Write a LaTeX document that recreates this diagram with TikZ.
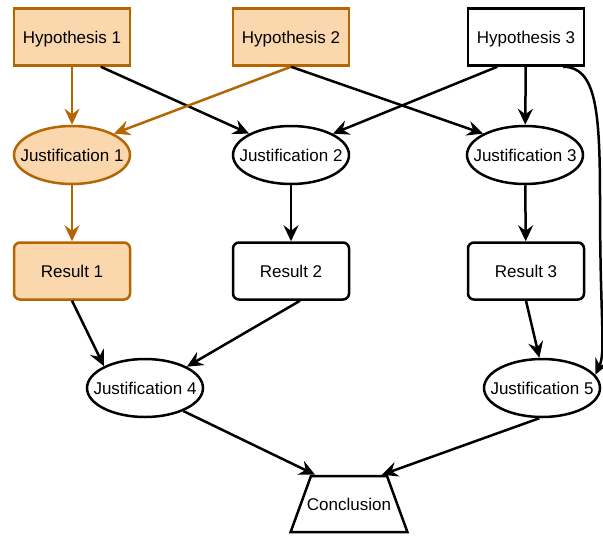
\documentclass[tikz,border=0pt]{standalone}
\usepackage{fontspec}
\setmainfont{Liberation Sans}
\usetikzlibrary{arrows.meta,shapes.geometric}
\definecolor{hypfill}{HTML}{FAD7AC}
\definecolor{hypdraw}{HTML}{B46504}

\begin{document}
\begin{tikzpicture}[x=1pt,y=-1pt,font=\fontsize{17}{20}\selectfont]
        \tikzstyle{box}=[rectangle, minimum width=116pt, minimum height=57pt, text height=12.3pt, text depth=0pt, line width=2.5pt, draw=black]
        \tikzstyle{rbox}=[box, rounded corners=6pt]
        \tikzstyle{just}=[ellipse, minimum width=116pt, minimum height=58pt, inner sep=0pt, line width=2.5pt, draw=black]
        \tikzstyle{concl}=[trapezium, trapezium left angle=70, trapezium right angle=70, inner sep=0pt, text width=76pt, text height=28pt, text depth=28pt, line width=2.5pt, draw=black]
        \tikzstyle{hilite}=[fill=hypfill, draw=hypdraw]
        \tikzstyle{connect}=[-{Stealth[length=16pt,width=15pt,inset=5.5pt]}, line width=2.5pt]
        \tikzstyle{connecto}=[connect, draw=hypdraw, fill=hypdraw]
        \useasboundingbox (0,0) rectangle (603,536);
        \node[box,hilite] (hyp1) at (72,37) {Hypothesis 1};
        \node[box,hilite] (hyp2) at (291,37) {Hypothesis 2};
        \node[box] (hyp3) at (526,37) {Hypothesis 3};
        \node[just,hilite] (just1) at (72,155) [label=center:Justification 1] {};
        \node[just] (just2) at (291,155) [label=center:Justification 2] {};
        \node[just] (just3) at (525,155) [label=center:Justification 3] {};
        \node[rbox,hilite] (res1) at (72,271) {Result 1};
        \node[rbox] (res2) at (291,271) {Result 2};
        \node[rbox] (res3) at (526,271) {Result 3};
        \node[just] (just4) at (145,388) [label=center:Justification 4] {};
        \node[just] (just5) at (542,388) [label=center:Justification 5] {};
        \node[concl] (concl) at (349,504) [label=center:Conclusion] {};
        \path (hyp1) edge [connecto] (just1)
        (hyp1.-46) edge [connect] (just2.153)
        (hyp2.south) edge [connecto] (just1.27)
        (hyp2.south) edge [connect] (just3.153)
        (hyp3.-134) edge [connect] (just2.27)
        (hyp3) edge [connect] (just3)
        (just1) edge [connecto] (res1)
        (just2) edge [connect] (res2)
        (just3) edge [connect] (res3)
        (res1.south) edge [connect] (just4.152)
        ([xshift=9pt]res2.south) edge [connect] (just4.27)
        (res3.south) edge [connect] (just5.95)
        (just4.-31) edge [connect] ([xshift=5pt]concl.top left corner)
        (just5.-95) edge [connect] ([xshift=-6pt]concl.top right corner);
        \draw[connect] ([xshift=-22pt]hyp3.south east) .. controls (596,67) and (600,110) .. (600,200)
          .. controls (600,320) and (606,352) .. (just5.14);
      \end{tikzpicture}
\end{document}
